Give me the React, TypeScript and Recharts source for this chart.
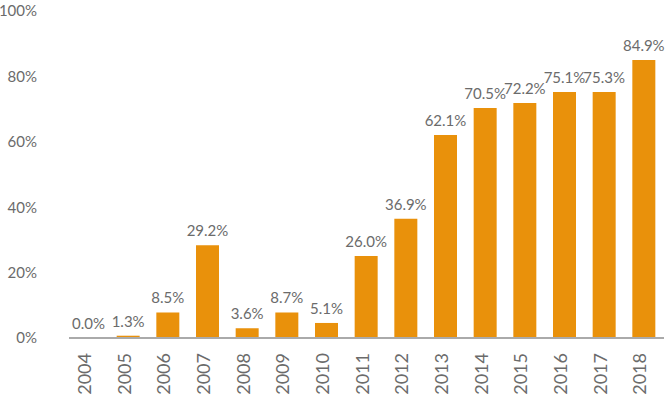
import { BarChart, Bar, XAxis, YAxis, LabelList } from 'recharts';

// years on the x axis
const years = ['2004', '2005', '2006', '2007', '2008', '2009', '2010', '2011', '2012', '2013', '2014', '2015', '2016', '2017', '2018'];
// bar heights as drawn (percent)
const shares = [0, 0.7, 7.8, 28.4, 3.0, 7.8, 4.6, 25.1, 36.5, 62.1, 70.3, 71.9, 75.2, 75.2, 85.0];
// value labels printed above each bar
const shareLabels = ['0.0%', '1.3%', '8.5%', '29.2%', '3.6%', '8.7%', '5.1%', '26.0%', '36.9%', '62.1%', '70.5%', '72.2%', '75.1%', '75.3%', '84.9%'];
const yTicks = [0, 20, 40, 60, 80, 100];

const data = years.map((year, i) => ({ year, share: shares[i], label: shareLabels[i] }));

const FONT = 'Lato, "Open Sans", sans-serif';
const GRAY = '#6b6b6b';

function YearTick({ x, y, payload }: any) {
  return (
    <text
      transform={`translate(${x + 2},${y + 7}) rotate(-90)`}
      textAnchor="end"
      fill={GRAY}
      fontSize={18}
      fontFamily={FONT}
    >
      {payload.value}
    </text>
  );
}

export default function App() {
  return (
    <div style={{ position: 'fixed', left: 0, top: 0, background: '#fff' }}>
      <BarChart
        width={670}
        height={398}
        data={data}
        margin={{ top: 11, right: 6, bottom: 0, left: 0 }}
        barSize={23}
      >
        <XAxis
          dataKey="year"
          interval={0}
          tickLine={false}
          axisLine={{ stroke: '#aaaaaa', strokeWidth: 2 }}
          height={60}
          tick={<YearTick />}
        />
        <YAxis
          domain={[0, 100]}
          ticks={yTicks}
          width={69}
          axisLine={false}
          tickLine={false}
          tickMargin={26}
          tickFormatter={(v: number) => `${v}%`}
          tick={{ fill: GRAY, fontSize: 15, fontFamily: FONT }}
        />
        <Bar dataKey="share" fill="#E9910B" minPointSize={0.01} isAnimationActive={false}>
          <LabelList
            dataKey="label"
            position="top"
            offset={9}
            fill={GRAY}
            fontSize={15}
            fontFamily={FONT}
          />
        </Bar>
      </BarChart>
    </div>
  );
}
